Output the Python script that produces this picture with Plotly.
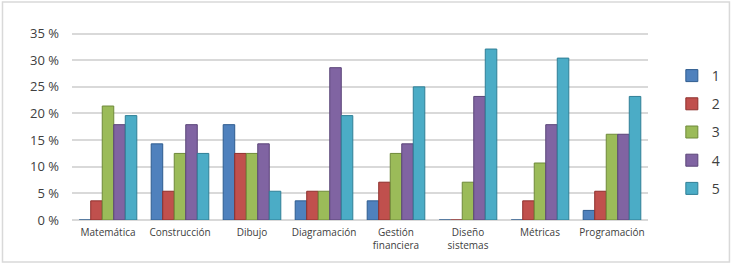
import plotly.graph_objects as go

categories = ["Matemática", "Construcción", "Dibujo", "Diagramación",
              "Gestión<br>financiera", "Diseño<br>sistemas", "Métricas", "Programación"]
series_names = ["1", "2", "3", "4", "5"]
s1 = [0.0, 14.3, 17.9, 3.6, 3.6, 0.0, 0.0, 1.8]
s2 = [3.6, 5.4, 12.5, 5.4, 7.1, 0.0, 3.6, 5.4]
s3 = [21.4, 12.5, 12.5, 5.4, 12.5, 7.1, 10.7, 16.1]
s4 = [17.9, 17.9, 14.3, 28.6, 14.3, 23.2, 17.9, 16.1]
s5 = [19.6, 12.5, 5.4, 19.6, 25.0, 32.1, 30.4, 23.2]
tick_vals = [0, 5, 10, 15, 20, 25, 30, 35]
tick_text = ["0 %", "5 %", "10 %", "15 %", "20 %", "25 %", "30 %", "35 %"]

colors = ["#4F81BD", "#C0504D", "#9BBB59", "#8064A2", "#4BACC6"]
edges = ["#2E5C8F", "#8E2F2C", "#6F8A3A", "#5A4478", "#2F7F96"]

fig = go.Figure()
for name, vals, c, e in zip(series_names, [s1, s2, s3, s4, s5], colors, edges):
    fig.add_trace(go.Bar(
        name=name, x=categories, y=vals,
        marker=dict(color=c, line=dict(color=e, width=1)),
        legendgroup=name,
    ))

L, R, T, B = 72, 86, 32, 46
PW, PH = 738 - L - R, 266 - T - B

fig.update_layout(
    width=738, height=266,
    margin=dict(l=L, r=R, t=T, b=B),
    paper_bgcolor="white", plot_bgcolor="white",
    barmode="group", bargap=0.2, bargroupgap=0.0,
    font=dict(family="Open Sans", color="#404040"),
    showlegend=True,
    legend=dict(x=(676 - L) / PW, xanchor="left", y=0.5 - 6 / PH, yanchor="middle",
                font=dict(size=14, color="#404040"), tracegroupgap=7,
                bgcolor="rgba(0,0,0,0)"),
    shapes=[dict(type="rect", xref="paper", yref="paper",
                 x0=(2 - L) / PW, x1=(734 - L) / PW,
                 y0=-(262 - T - PH) / PH, y1=1 + (T - 2) / PH,
                 line=dict(color="#D9D9D9", width=1.5), fillcolor="rgba(0,0,0,0)",
                 layer="below")],
)
fig.update_xaxes(showgrid=False, showline=False, ticks="",
                 tickfont=dict(size=10, color="#404040"), ticklabelstandoff=5)
fig.update_yaxes(range=[0, 35.3], tickvals=tick_vals, ticktext=tick_text,
                 showgrid=True, gridcolor="#D9D9D9", gridwidth=1.5,
                 zeroline=True, zerolinecolor="#D9D9D9", zerolinewidth=1.5,
                 tickfont=dict(size=13, color="#404040"), ticks="",
                 ticklabelstandoff=12)

fig.write_html("out.html", config={"displayModeBar": False},
               post_script="document.body.style.margin='0';")
